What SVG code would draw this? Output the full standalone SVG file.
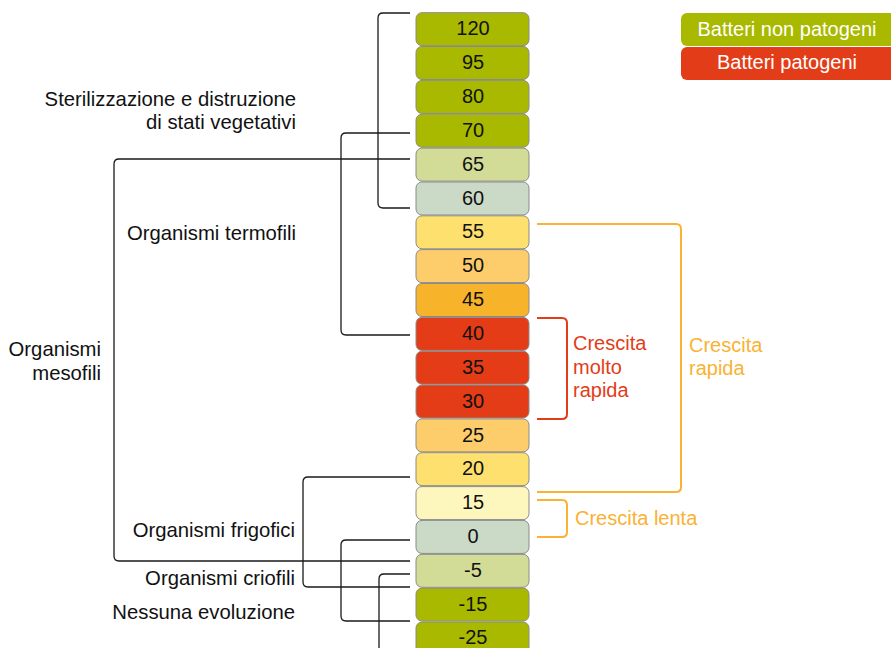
<svg xmlns="http://www.w3.org/2000/svg" width="891" height="648" viewBox="0 0 891 648">
<style>
.box{stroke:#8a8a8a;stroke-width:1}
.num{font-family:"Liberation Sans",Arial,sans-serif;font-size:20px;fill:#111;text-anchor:middle}
.lbl{font-family:"Liberation Sans",Arial,sans-serif;font-size:20.3px;fill:#111;text-anchor:end}
.leg{font-family:"Liberation Sans",Arial,sans-serif;font-size:20px;fill:#fff;text-anchor:middle}
.red{font-family:"Liberation Sans",Arial,sans-serif;font-size:20px;fill:#e33c18}
.org{font-family:"Liberation Sans",Arial,sans-serif;font-size:20px;fill:#f9b233}
.g1{fill:#a8b900}.g2{fill:#d3dc96}.g3{fill:#cbdac7}.y1{fill:#fee06f}.y2{fill:#fdcd6c}.y3{fill:#f7b42a}.r1{fill:#e33c17}.y4{fill:#fef7bd}
.bk{fill:none;stroke:#1a1a1a;stroke-width:1.3}
.bo{fill:none;stroke:#f9b233;stroke-width:2}
.br{fill:none;stroke:#e33c18;stroke-width:2}
</style>
<rect width="891" height="648" fill="#fff"/>
<g id="legend">
<rect x="681" y="13" width="230" height="33" rx="6" fill="#a8b900"/>
<rect x="681" y="47" width="230" height="33" rx="6" fill="#e33c18"/>
<text class="leg" x="787" y="36">Batteri non patogeni</text>
<text class="leg" x="787" y="69">Batteri patogeni</text>
</g>
<g id="connectors">
<path class="bk" d="M410,13 H383 Q378,13 378,18 V203 Q378,208 383,208 H410"/>
<path class="bk" d="M410,133 H346 Q341,133 341,138 V330 Q341,335 346,335 H410"/>
<path class="bk" d="M410,159 H119 Q114,159 114,164 V556 Q114,561 119,561 H410"/>
<path class="bk" d="M410,477 H308 Q303,477 303,482 V582 Q303,587 308,587 H410"/>
<path class="bk" d="M410,540 H346 Q341,540 341,545 V616 Q341,621 346,621 H410"/>
<path class="bk" d="M410,574 H384 Q379,574 379,579 V648"/>
<path class="bo" d="M537,224 H676 Q681,224 681,229 V487 Q681,492 676,492 H537"/>
<path class="br" d="M537,318 H562 Q567,318 567,323 V414 Q567,419 562,419 H537"/>
<path class="bo" d="M537,500 H562 Q567,500 567,505 V532 Q567,537 562,537 H537"/>
</g>
<g id="t120"><rect class="box g1" x="416" y="12.7" width="113" height="33" rx="6"/><text class="num" x="473" y="35.3">120</text></g>
<g id="t95"><rect class="box g1" x="416" y="46.5" width="113" height="33" rx="6"/><text class="num" x="473" y="69.1">95</text></g>
<g id="t80"><rect class="box g1" x="416" y="80.4" width="113" height="33" rx="6"/><text class="num" x="473" y="103">80</text></g>
<g id="t70"><rect class="box g1" x="416" y="114.2" width="113" height="33" rx="6"/><text class="num" x="473" y="136.8">70</text></g>
<g id="t65"><rect class="box g2" x="416" y="148.1" width="113" height="33" rx="6"/><text class="num" x="473" y="170.7">65</text></g>
<g id="t60"><rect class="box g3" x="416" y="182" width="113" height="33" rx="6"/><text class="num" x="473" y="204.6">60</text></g>
<g id="t55"><rect class="box y1" x="416" y="215.8" width="113" height="33" rx="6"/><text class="num" x="473" y="238.4">55</text></g>
<g id="t50"><rect class="box y2" x="416" y="249.6" width="113" height="33" rx="6"/><text class="num" x="473" y="272.2">50</text></g>
<g id="t45"><rect class="box y3" x="416" y="283.5" width="113" height="33" rx="6"/><text class="num" x="473" y="306.1">45</text></g>
<g id="t40"><rect class="box r1" x="416" y="317.4" width="113" height="33" rx="6"/><text class="num" x="473" y="340">40</text></g>
<g id="t35"><rect class="box r1" x="416" y="351.2" width="113" height="33" rx="6"/><text class="num" x="473" y="373.8">35</text></g>
<g id="t30"><rect class="box r1" x="416" y="385" width="113" height="33" rx="6"/><text class="num" x="473" y="407.6">30</text></g>
<g id="t25"><rect class="box y2" x="416" y="418.9" width="113" height="33" rx="6"/><text class="num" x="473" y="441.5">25</text></g>
<g id="t20"><rect class="box y1" x="416" y="452.7" width="113" height="33" rx="6"/><text class="num" x="473" y="475.3">20</text></g>
<g id="t15"><rect class="box y4" x="416" y="486.6" width="113" height="33" rx="6"/><text class="num" x="473" y="509.2">15</text></g>
<g id="t0"><rect class="box g3" x="416" y="520.4" width="113" height="33" rx="6"/><text class="num" x="473" y="543">0</text></g>
<g id="tm5"><rect class="box g2" x="416" y="554.3" width="113" height="33" rx="6"/><text class="num" x="473" y="576.9">-5</text></g>
<g id="tm15"><rect class="box g1" x="416" y="588.1" width="113" height="33" rx="6"/><text class="num" x="473" y="610.7">-15</text></g>
<g id="tm25"><rect class="box g1" x="416" y="622" width="113" height="33" rx="6"/><text class="num" x="473" y="644.4">-25</text></g>
<g id="labels">
<text class="lbl" x="296" y="106">Sterilizzazione e distruzione</text>
<text class="lbl" x="296" y="129">di stati vegetativi</text>
<text class="lbl" x="296" y="240">Organismi termofili</text>
<text class="lbl" x="101" y="356">Organismi</text>
<text class="lbl" x="101" y="380">mesofili</text>
<text class="lbl" x="295" y="537">Organismi frigofici</text>
<text class="lbl" x="295" y="585">Organismi criofili</text>
<text class="lbl" x="295" y="619">Nessuna evoluzione</text>
<text class="red" x="573" y="350">Crescita</text>
<text class="red" x="573" y="374">molto</text>
<text class="red" x="573" y="397">rapida</text>
<text class="org" x="689" y="352">Crescita</text>
<text class="org" x="689" y="375">rapida</text>
<text class="org" x="575" y="525">Crescita lenta</text>
</g>
</svg>
